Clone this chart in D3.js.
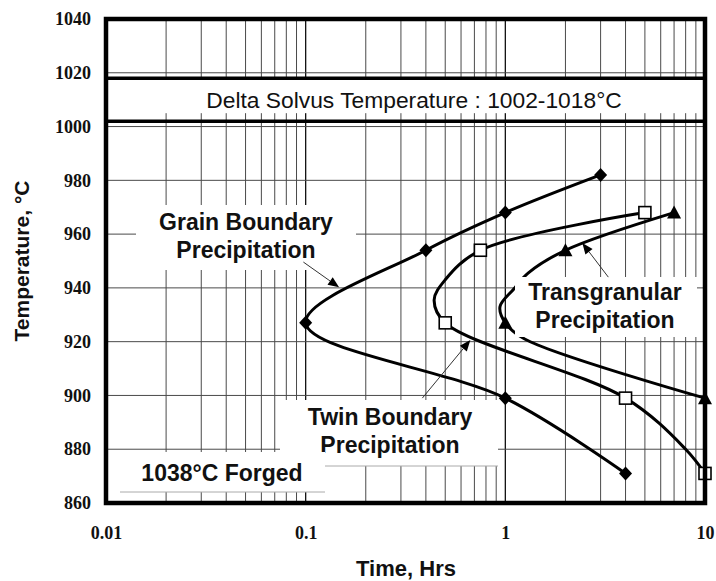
<!DOCTYPE html>
<html>
<head>
<meta charset="utf-8">
<script src="https://cdn.jsdelivr.net/npm/d3@7"></script>
<style>
  body { margin: 0; background: #fff; }
  svg { display: block; }
</style>
</head>
<body>
<svg id="chart" width="716" height="581"></svg>
<script>
// ---- Measured precipitation start points (time in hours, temperature in °C) ----
const grainTime = [4, 1, 0.1, 0.4, 1, 3];
const grainTemp = [871, 899, 927, 954, 968, 982];

const twinTime = [10, 4, 0.5, 0.75, 5];
const twinTemp = [871, 899, 927, 954, 968];

const transTime = [10, 1, 2, 7];
const transTemp = [899, 927, 954, 968];

// ---- Traced C-curves through the measured points ----
const grainLineTime = [4, 1, 0.1, 0.4, 1, 3];
const grainLineTemp = [871, 899, 927, 954, 968, 982];

const twinLineTime = [10, 8, 4, 0.5, 0.44, 0.5, 0.75, 5];
const twinLineTemp = [871, 880, 899, 927, 935.5, 943, 954, 968];

const transLineTime = [10, 1.25, 1, 0.94, 1.1, 1.3, 2, 7];
const transLineTemp = [899, 921, 927, 933, 939.5, 945.5, 954, 968];

// Delta solvus band
const deltaSolvus = [1002, 1018];

// Axis ticks
const xTicks = [0.01, 0.1, 1, 10];
const xTickLabels = ["0.01", "0.1", "1", "10"];
const yTicks = [860, 880, 900, 920, 940, 960, 980, 1000, 1020, 1040];
const yTickLabels = ["860", "880", "900", "920", "940", "960", "980", "1000", "1020", "1040"];

// ---- Layout ----
const W = 716, H = 581;
const plot = { left: 106, right: 705, top: 19, bottom: 503 };
const sans = "'Liberation Sans', Arial, Helvetica, sans-serif";
const serif = "'Liberation Serif', 'Times New Roman', serif";

const x = d3.scaleLog().domain([0.01, 10]).range([plot.left, plot.right]);
const y = d3.scaleLinear().domain([860, 1040]).range([plot.bottom, plot.top]);

const svg = d3.select("#chart");
svg.append("rect").attr("width", W).attr("height", H).attr("fill", "#fff");

// ---- Grid ----
const minorX = [];
[0.01, 0.1, 1].forEach(dec => { for (let k = 2; k <= 9; k++) minorX.push(dec * k); });

const grid = svg.append("g").attr("class", "grid");
grid.selectAll("line.vminor").data(minorX).join("line")
  .attr("class", "vminor")
  .attr("x1", d => x(d)).attr("x2", d => x(d))
  .attr("y1", y(1040)).attr("y2", y(860))
  .attr("stroke", "#4a4a4a").attr("stroke-width", 1);

grid.selectAll("line.vmajor").data([0.1, 1]).join("line")
  .attr("class", "vmajor")
  .attr("x1", d => x(d)).attr("x2", d => x(d))
  .attr("y1", y(1040)).attr("y2", y(860))
  .attr("stroke", "#111").attr("stroke-width", 1.3);

grid.selectAll("line.h").data(yTicks.slice(1, -1)).join("line")
  .attr("class", "h")
  .attr("x1", x(0.01)).attr("x2", x(10))
  .attr("y1", d => y(d)).attr("y2", d => y(d))
  .attr("stroke", "#4a4a4a").attr("stroke-width", 1);

// ---- Delta solvus band ----
svg.append("rect")
  .attr("x", plot.left + 2).attr("width", plot.right - plot.left - 4)
  .attr("y", y(deltaSolvus[1]) + 1).attr("height", (y(deltaSolvus[0]) - y(deltaSolvus[1])) - 9)
  .attr("fill", "#fff");
svg.append("g").selectAll("line").data(deltaSolvus).join("line")
  .attr("x1", x(0.01)).attr("x2", x(10))
  .attr("y1", d => y(d)).attr("y2", d => y(d))
  .attr("stroke", "#000").attr("stroke-width", 3.5);
svg.append("text")
  .attr("x", 414).attr("y", (y(deltaSolvus[0]) + y(deltaSolvus[1])) / 2 + 8)
  .attr("text-anchor", "middle")
  .attr("font-family", sans).attr("font-size", 22.8).attr("fill", "#111")
  .text("Delta Solvus Temperature : " + deltaSolvus[0] + "-" + deltaSolvus[1] + "°C");

// ---- Curves ----
const line = d3.line()
  .x(d => x(d[0])).y(d => y(d[1]))
  .curve(d3.curveCatmullRom.alpha(0.5));
const zip = (a, b) => a.map((v, i) => [v, b[i]]);

const curves = [
  zip(grainLineTime, grainLineTemp),
  zip(twinLineTime, twinLineTemp),
  zip(transLineTime, transLineTemp)
];
svg.append("g").selectAll("path").data(curves).join("path")
  .attr("d", line)
  .attr("fill", "none").attr("stroke", "#000").attr("stroke-width", 3)
  .attr("stroke-linejoin", "round");

// ---- Markers ----
const mk = svg.append("g");
mk.selectAll("path.diamond").data(zip(grainTime, grainTemp)).join("path")
  .attr("class", "diamond")
  .attr("transform", d => `translate(${x(d[0])},${y(d[1])})`)
  .attr("d", "M0,-7L6.5,0L0,7L-6.5,0Z")
  .attr("fill", "#000");
mk.selectAll("rect.square").data(zip(twinTime, twinTemp)).join("rect")
  .attr("class", "square")
  .attr("x", d => x(d[0]) - 6).attr("y", d => y(d[1]) - 6)
  .attr("width", 12).attr("height", 12)
  .attr("fill", "#fff").attr("stroke", "#000").attr("stroke-width", 1.6);
mk.selectAll("path.tri").data(zip(transTime, transTemp)).join("path")
  .attr("class", "tri")
  .attr("transform", d => `translate(${x(d[0])},${y(d[1])})`)
  .attr("d", "M0,-7L7,6L-7,6Z")
  .attr("fill", "#000");

// ---- Labels with white backing ----
const labels = [
  { lines: ["Grain Boundary", "Precipitation"], cx: 246, base: 230, box: [136, 205, 356, 270] },
  { lines: ["Transgranular", "Precipitation"], cx: 605, base: 300, box: [515, 277, 697, 337] },
  { lines: ["Twin Boundary", "Precipitation"], cx: 390, base: 425, box: [280, 400, 498, 466], rule: [325, 498] },
  { lines: ["1038°C Forged"], cx: 222, base: 481, box: [120, 452, 325, 492], rule: [120, 325] }
];
const lab = svg.append("g");
labels.forEach(l => {
  lab.append("rect")
    .attr("x", l.box[0]).attr("y", l.box[1])
    .attr("width", l.box[2] - l.box[0]).attr("height", l.box[3] - l.box[1])
    .attr("fill", "#fff");
  if (l.rule) {
    lab.append("line")
      .attr("x1", l.rule[0]).attr("x2", l.rule[1])
      .attr("y1", l.box[3]).attr("y2", l.box[3])
      .attr("stroke", "#aaa").attr("stroke-width", 1);
  }
  l.lines.forEach((t, i) => {
    lab.append("text")
      .attr("x", l.cx).attr("y", l.base + i * 27.5)
      .attr("text-anchor", "middle")
      .attr("font-family", sans).attr("font-weight", "bold").attr("font-size", 23)
      .attr("fill", "#111")
      .text(t);
  });
});

// ---- Leader arrows (data coordinates) ----
const arrows = [
  { from: [0.0974, 949.6], to: [0.147, 940.2] },
  { from: [0.384, 899], to: [0.668, 920.6] },
  { from: [3.28, 944], to: [2.43, 956.7] }
];
const arr = svg.append("g");
arrows.forEach(a => {
  const x0 = x(a.from[0]), y0 = y(a.from[1]);
  const x1 = x(a.to[0]), y1 = y(a.to[1]);
  const ang = Math.atan2(y1 - y0, x1 - x0);
  const len = 11, hw = 4.5;
  const bx = x1 - len * Math.cos(ang), by = y1 - len * Math.sin(ang);
  arr.append("line")
    .attr("x1", x0).attr("y1", y0).attr("x2", bx).attr("y2", by)
    .attr("stroke", "#333").attr("stroke-width", 1);
  const px = -Math.sin(ang) * hw, py = Math.cos(ang) * hw;
  arr.append("path")
    .attr("d", `M${x1},${y1}L${bx + px},${by + py}L${bx - px},${by - py}Z`)
    .attr("fill", "#000");
});

// ---- Frame ----
svg.append("rect")
  .attr("x", plot.left).attr("y", plot.top)
  .attr("width", plot.right - plot.left).attr("height", plot.bottom - plot.top)
  .attr("fill", "none").attr("stroke", "#000").attr("stroke-width", 4.5);

// ---- Axes ----
const yAxis = svg.append("g")
  .attr("transform", `translate(${plot.left},0)`)
  .call(d3.axisLeft(y).tickValues(yTicks).tickFormat((d, i) => yTickLabels[i]).tickSize(0).tickPadding(15));
yAxis.select(".domain").remove();
yAxis.selectAll("text")
  .attr("font-family", serif).attr("font-weight", "bold").attr("font-size", 18).attr("fill", "#111");

const xAxis = svg.append("g")
  .attr("transform", `translate(0,${plot.bottom})`)
  .call(d3.axisBottom(x).tickValues(xTicks).tickFormat((d, i) => xTickLabels[i]).tickSize(0).tickPadding(23));
xAxis.select(".domain").remove();
xAxis.selectAll("text")
  .attr("font-family", serif).attr("font-weight", "bold").attr("font-size", 18).attr("fill", "#111");

// Axis titles
svg.append("text")
  .attr("transform", `translate(29,${(plot.top + plot.bottom) / 2}) rotate(-90)`)
  .attr("text-anchor", "middle")
  .attr("font-family", sans).attr("font-weight", "bold").attr("font-size", 21).attr("fill", "#111")
  .text("Temperature, °C");
svg.append("text")
  .attr("x", 406).attr("y", 576)
  .attr("text-anchor", "middle")
  .attr("font-family", sans).attr("font-weight", "bold").attr("font-size", 22).attr("fill", "#111")
  .text("Time, Hrs");
</script>
</body>
</html>
